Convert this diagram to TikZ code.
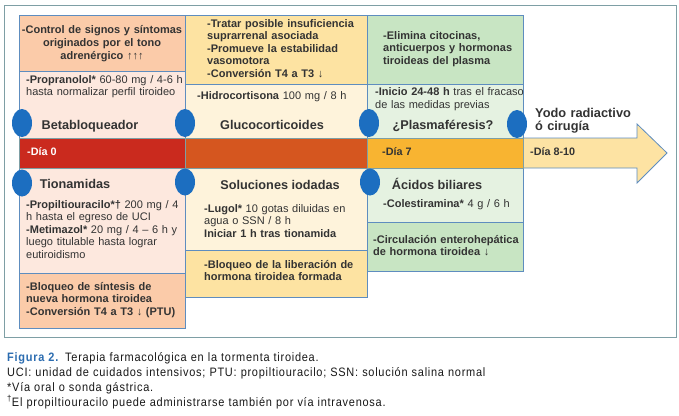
\documentclass[tikz,border=0pt]{standalone}
\usepackage{fontspec}
\setmainfont{Liberation Sans}
\newfontfamily\capfont[FakeStretch=0.9,LetterSpace=6]{Liberation Sans}
\usetikzlibrary{shapes.geometric}
\definecolor{frameC}{HTML}{7E9FA5}
\definecolor{lineC}{HTML}{5E8DBF}
\definecolor{ellC}{HTML}{1C6EC0}
\definecolor{peach}{HTML}{FBCBA9}
\definecolor{pinkL}{HTML}{FDE8DE}
\definecolor{yel}{HTML}{FDE3A2}
\definecolor{cream}{HTML}{FEF3DB}
\definecolor{grn}{HTML}{C8E5C3}
\definecolor{grnL}{HTML}{E5F2E1}
\definecolor{redB}{HTML}{CA2A1E}
\definecolor{orngB}{HTML}{D5561F}
\definecolor{ambB}{HTML}{F8B431}
\definecolor{arrY}{HTML}{FDE3A3}
\definecolor{txtC}{HTML}{333333}
\definecolor{capblue}{HTML}{2B6CB0}
\begin{document}
\begin{tikzpicture}[x=1pt,y=-1pt,
  box/.style={draw=lineC, line width=0.8pt, inner sep=0, anchor=north west},
  ell/.style={ellipse, fill=ellC, draw=none, minimum width=20, minimum height=28, inner sep=0},
  tl/.style={inner sep=0, text=txtC, anchor=base west, align=left, text width=#1},
  tc/.style={inner sep=0, text=txtC, anchor=base, align=center, text width=#1},
  hd/.style={inner sep=0, text=txtC, anchor=base, font=\bfseries\fontsize{12.7}{14}\selectfont},
  bartxt/.style={inner sep=0, anchor=base west, font=\bfseries\fontsize{10.8}{12}\selectfont}
]
\useasboundingbox (0,0) rectangle (679,415);
\fill[white] (0,0) rectangle (679,415);
\node[draw=frameC, line width=1.2pt, inner sep=0, anchor=north west, minimum width=672, minimum height=332] (frame) at (4,5) {};

% top boxes
\node[box, fill=peach, minimum width=166, minimum height=56] (c1a) at (19,15) {};
\node[box, fill=pinkL, minimum width=166, minimum height=67] (c1b) at (19,71) {};
\node[box, fill=yel, minimum width=182, minimum height=69] (c2a) at (185,15) {};
\node[box, fill=cream, minimum width=182, minimum height=54] (c2b) at (185,84) {};
\node[box, fill=grn, minimum width=156, minimum height=69] (c3a) at (367,15) {};
\node[box, fill=grnL, minimum width=156, minimum height=54] (c3b) at (367,84) {};

% bottom boxes
\node[box, fill=pinkL, minimum width=166, minimum height=105] (d1a) at (19,168) {};
\node[box, fill=peach, minimum width=166, minimum height=55] (d1b) at (19,273) {};
\node[box, fill=cream, minimum width=182, minimum height=82] (d2a) at (185,168) {};
\node[box, fill=yel, minimum width=182, minimum height=47] (d2b) at (185,250) {};
\node[box, fill=grnL, minimum width=156, minimum height=54] (d3a) at (367,168) {};
\node[box, fill=grn, minimum width=156, minimum height=49] (d3b) at (367,222) {};

% arrow
\draw[draw=lineC, line width=0.8pt, fill=arrY] (523,138) -- (637,138) -- (637,124) -- (667,153) -- (637,183) -- (637,168) -- (523,168) -- cycle;

% bar
\node[box, draw=frameC, fill=redB, minimum width=166, minimum height=30] (b1) at (19,138) {};
\node[box, draw=frameC, fill=orngB, minimum width=182, minimum height=30] (b2) at (185,138) {};
\node[box, draw=frameC, fill=ambB, minimum width=156, minimum height=30] (b3) at (367,138) {};

% ellipses
\node[ell] (e1) at (22,123) {};
\node[ell] (e2) at (185,123) {};
\node[ell] (e3) at (369,123) {};
\node[ell] (e4) at (517,124) {};
\node[ell, minimum height=27] (e5) at (22,183) {};
\node[ell, minimum height=27] (e6) at (185,182) {};
\node[ell, minimum height=27] (e7) at (370,182) {};

% top texts
\node[tc=164, font=\bfseries\fontsize{11}{12.9}\selectfont] (t1a) at (102,33.3)
  {-Control de signos y síntomas\\originados por el tono\\adrenérgico ↑↑↑};
\node[tl=170, font=\fontsize{11}{12.3}\selectfont] (t1b) at (26,83.3)
  {\textbf{-Propranolol*} 60-80 mg / 4-6 h\\hasta normalizar perfil tiroideo};
\node[hd] (h1) at (90,129) {Betabloqueador};

\node[tl=170, font=\bfseries\fontsize{11}{12.5}\selectfont] (t2a) at (207,27)
  {-Tratar posible insuficiencia\\suprarrenal asociada\\-Promueve la estabilidad\\vasomotora\\-Conversión T4 a T3 ↓};
\node[tl=170, font=\fontsize{11}{12.5}\selectfont] (t2b) at (197,99)
  {\textbf{-Hidrocortisona} 100 mg / 8 h};
\node[hd] (h2) at (272,129) {Glucocorticoides};

\node[tl=150, font=\bfseries\fontsize{11}{12.4}\selectfont] (t3a) at (383,39.3)
  {-Elimina citocinas,\\anticuerpos y hormonas\\tiroideas del plasma};
\node[tl=160, font=\fontsize{11}{13}\selectfont] (t3b) at (375,95)
  {\textbf{-Inicio 24-48 h} tras el fracaso\\de las medidas previas};
\node[hd] (h3) at (443,129) {¿Plasmaféresis?};

\node[tl=140, font=\bfseries\fontsize{12.8}{12.5}\selectfont] (t4) at (535,117.5)
  {Yodo radiactivo\\ó cirugía};

% bar texts
\node[bartxt, text=white] (d0) at (27,155) {-Día 0};
\node[bartxt, text=txtC] (d7) at (382,155) {-Día 7};
\node[bartxt, text=txtC] (d8) at (530,155) {-Día 8-10};

% bottom texts
\node[hd] (h5) at (75,188) {Tionamidas};
\node[tl=170, font=\fontsize{11}{12.6}\selectfont] (t5a) at (26,208)
  {\textbf{-Propiltiouracilo*†} 200 mg / 4\\h hasta el egreso de UCI\\\textbf{-Metimazol*} 20 mg / 4 – 6 h y\\luego titulable hasta lograr\\eutiroidismo};
\node[tl=170, font=\bfseries\fontsize{11}{12.5}\selectfont] (t5b) at (26,290)
  {-Bloqueo de síntesis de\\nueva hormona tiroidea\\-Conversión T4 a T3 ↓ (PTU)};

\node[hd] (h6) at (280,189) {Soluciones iodadas};
\node[tl=170, font=\fontsize{11}{12.2}\selectfont] (t6a) at (204,212.7)
  {\textbf{-Lugol*} 10 gotas diluidas en\\agua o SSN / 8 h\\\textbf{Iniciar 1 h tras tionamida}};
\node[tl=170, font=\bfseries\fontsize{11}{12.7}\selectfont] (t6b) at (204,268)
  {-Bloqueo de la liberación de\\hormona tiroidea formada};

\node[hd] (h7) at (437,189) {Ácidos biliares};
\node[tl=150, font=\fontsize{11}{12.5}\selectfont] (t7a) at (383,207)
  {\textbf{-Colestiramina*} 4 g / 6 h};
\node[tl=160, font=\bfseries\fontsize{11}{12.3}\selectfont] (t7b) at (373,243)
  {-Circulación enterohepática\\de hormona tiroidea ↓};

% caption
\node[inner sep=0, anchor=base west, align=left, text width=660, text=black!90,
  font=\capfont\fontsize{12.2}{15}\selectfont] (cap) at (7,361)
  {\textcolor{capblue}{\textbf{Figura 2.}} Terapia farmacológica en la tormenta tiroidea.\\
   UCI: unidad de cuidados intensivos; PTU: propiltiouracilo; SSN: solución salina normal\\
   {*}Vía oral o sonda gástrica.\\
   \textsuperscript{†}El propiltiouracilo puede administrarse también por vía intravenosa.};
\end{tikzpicture}
\end{document}
